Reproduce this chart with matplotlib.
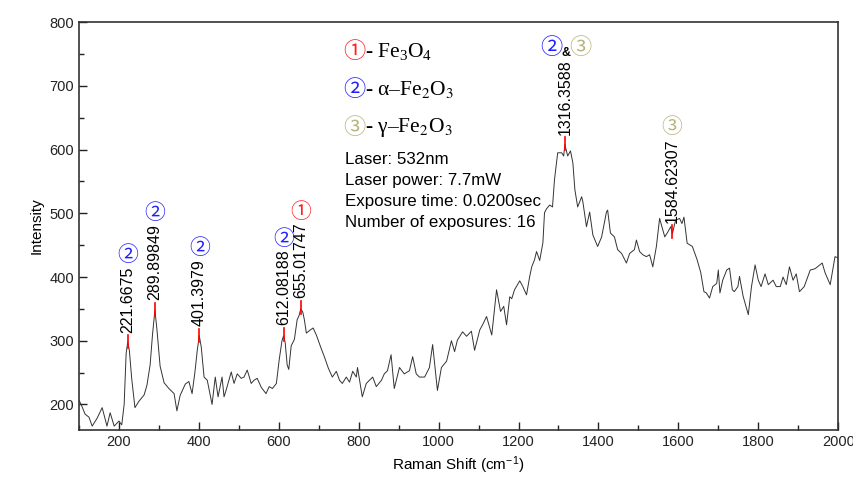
import numpy as np
import matplotlib
matplotlib.use("Agg")
import matplotlib.pyplot as plt
from matplotlib.ticker import MultipleLocator

plt.rcParams['font.family'] = ['Liberation Sans', 'DejaVu Sans']
plt.rcParams['mathtext.fontset'] = 'stix'

# Raman spectrum
shift = [100, 108, 115, 125, 133, 145, 158, 170, 178, 188, 200, 207, 213, 218, 222, 226, 232, 240,
         250, 263, 270, 278, 284, 290, 295, 303, 313, 325, 338, 345, 353, 366, 375, 383, 390, 396,
         401, 406, 413, 421, 433, 441, 448, 458, 463, 468, 481, 488, 496, 506, 513, 521, 531, 538,
         546, 556, 568, 576, 584, 594, 601, 608, 612, 616, 621, 625, 631, 639, 646, 651, 655, 660,
         664, 669, 679, 686, 694, 706, 714, 724, 734, 744, 752, 759, 769, 777, 785, 794, 797, 803,
         809, 819, 827, 835, 844, 857, 864, 872, 881, 889, 902, 914, 927, 935, 944, 952, 965, 977,
         985, 997, 1007, 1020, 1032, 1040, 1047, 1060, 1070, 1082, 1090, 1103, 1110, 1120, 1133,
         1145, 1155, 1163, 1170, 1178, 1183, 1190, 1203, 1210, 1220, 1228, 1233, 1240, 1245, 1253,
         1261, 1265, 1270, 1278, 1285, 1290, 1298, 1308, 1313, 1316, 1323, 1330, 1336, 1341, 1348,
         1358, 1361, 1370, 1378, 1386, 1398, 1408, 1420, 1423, 1430, 1440, 1448, 1458, 1470, 1478,
         1490, 1495, 1503, 1511, 1520, 1528, 1536, 1545, 1553, 1566, 1573, 1581, 1585, 1593, 1603,
         1609, 1614, 1622, 1635, 1647, 1656, 1664, 1670, 1678, 1686, 1696, 1700, 1704, 1711, 1721,
         1728, 1735, 1740, 1749, 1753, 1762, 1775, 1783, 1792, 1800, 1807, 1817, 1825, 1837, 1845,
         1855, 1862, 1870, 1878, 1887, 1895, 1903, 1915, 1930, 1942, 1960, 1967, 1980, 1992, 2000]
intensity = [207, 196, 185, 180, 166, 178, 195, 166, 187, 166, 174, 168, 200, 280, 298, 285, 240, 195,
             205, 215, 230, 262, 310, 348, 318, 260, 234, 225, 217, 190, 214, 232, 236, 217, 250, 285,
             308, 290, 243, 238, 200, 243, 212, 243, 212, 222, 251, 233, 248, 241, 243, 254, 233, 238,
             241, 227, 217, 228, 225, 233, 270, 300, 308, 297, 262, 255, 292, 302, 333, 340, 350, 345,
             333, 312, 317, 320, 309, 288, 275, 257, 243, 252, 238, 233, 243, 235, 252, 243, 258, 235,
             212, 233, 238, 243, 228, 238, 248, 253, 278, 225, 258, 248, 253, 275, 248, 243, 243, 258,
             294, 222, 258, 268, 300, 283, 301, 314, 307, 315, 285, 317, 325, 338, 309,
             380, 346, 354, 325, 369, 366, 380, 394, 386, 372, 401, 416, 427, 440, 426,
             454, 501, 507, 513, 510, 553, 595, 595, 590, 608, 590, 598, 579, 537, 510,
             526, 518, 479, 502, 466, 448, 463, 502, 505, 469, 463, 443, 437, 422, 437,
             443, 458, 440, 435, 432, 435, 416, 448, 492, 463, 470, 479, 468, 489, 492,
             484, 494, 453, 448, 427, 407, 377, 375, 367, 385, 390, 411, 375, 395, 411,
             414, 380, 377, 385, 401, 370, 341, 385, 419, 395, 385, 405, 388, 395, 385,
             385, 400, 388, 416, 395, 405, 377, 385, 411, 413, 422, 407, 388, 432, 430]

peak_pos = [221.6675, 289.89849, 401.3979, 612.08188, 655.01747, 1316.3588, 1584.62307]
peak_text = ['221.6675', '289.89849', '401.3979', '612.08188', '655.01747', '1316.3588', '1584.62307']
peak_tag = ['2', '2', '2', '2', '1', '2&3', '3']

legend_tags = ['1', '2', '3']
legend_names = [r'- Fe$\mathregular{_3}$O$\mathregular{_4}$',
                '- \u03b1\u2013Fe$_2$O$_3$',
                '- \u03b3\u2013Fe$_2$O$_3$']
info_lines = ['Laser: 532nm', 'Laser power: 7.7mW', 'Exposure time: 0.0200sec',
              'Number of exposures: 16']

tag_color = {'1': '#ff2020', '2': '#2020ff', '3': '#b8b47c'}
circled = {'1': '\u2460', '2': '\u2461', '3': '\u2462'}
circ_family = ['Noto Sans CJK SC', 'DejaVu Sans']
serif_family = ['Liberation Serif', 'DejaVu Serif']

fig = plt.figure(figsize=(8.54, 4.82), dpi=100)
ax = fig.add_axes([0.0925, 0.108, 0.889, 0.846])
ax.plot(shift, intensity, color='#333333', lw=0.7)
ax.set_xlim(100, 2000)
ax.set_ylim(160, 800)
ax.xaxis.set_major_locator(MultipleLocator(200))
ax.xaxis.set_minor_locator(MultipleLocator(100))
ax.yaxis.set_major_locator(MultipleLocator(100))
ax.yaxis.set_minor_locator(MultipleLocator(50))
ax.tick_params(which='both', direction='in', labelsize=10.5, colors='#222222')
ax.tick_params(which='major', length=6, width=1)
ax.tick_params(which='minor', length=3.5, width=1)
for s in ax.spines.values():
    s.set_linewidth(1.2)
    s.set_color('#333333')
ax.set_xlabel('Raman Shift (cm$^{\\mathregular{-1}}$)', fontsize=11)
ax.set_ylabel('Intensity', fontsize=11)

# peak markers and labels
texts = []
for px, lab in zip(peak_pos, peak_text):
    py = np.interp(px, shift, intensity)
    ax.plot([px, px], [py - 8, py + 12], color='red', lw=1.2)
    t = ax.annotate(lab, (px, py + 12), xytext=(0, 2), textcoords='offset points',
                    rotation=90, ha='center', va='bottom', fontsize=11.5)
    texts.append(t)

fig.canvas.draw()
renderer = fig.canvas.get_renderer()
inv = ax.transData.inverted()
for t, px, tag in zip(texts, peak_pos, peak_tag):
    bb = t.get_window_extent(renderer)
    top = inv.transform((bb.x0, bb.y1))[1]
    if tag == '2&3':
        ax.annotate(circled['2'], (px, top), xytext=(-10, 0), textcoords='offset points',
                    ha='center', va='bottom', fontsize=16, color=tag_color['2'], family=circ_family)
        ax.annotate('&', (px, top), xytext=(1, 0), textcoords='offset points',
                    ha='center', va='bottom', fontsize=9, color='black', weight='bold')
        ax.annotate(circled['3'], (px, top), xytext=(11, 0), textcoords='offset points',
                    ha='center', va='bottom', fontsize=16, color=tag_color['3'], family=circ_family)
    else:
        ax.annotate(circled[tag], (px, top), xytext=(0, 0), textcoords='offset points',
                    ha='center', va='bottom', fontsize=15, color=tag_color[tag], family=circ_family)

# legend of species
for i, (tag, name) in enumerate(zip(legend_tags, legend_names)):
    y = 0.928 - i * 0.093
    ax.text(0.348, y, circled[tag], transform=ax.transAxes, fontsize=16,
            color=tag_color[tag], family=circ_family, va='center', ha='left')
    ax.text(0.377, y, name, transform=ax.transAxes, fontsize=15.5,
            family=serif_family, va='center', ha='left')

for i, line in enumerate(info_lines):
    ax.text(0.351, 0.662 - i * 0.0515, line, transform=ax.transAxes, fontsize=12.2,
            va='center', ha='left')

fig.savefig('out.png', dpi=100)
